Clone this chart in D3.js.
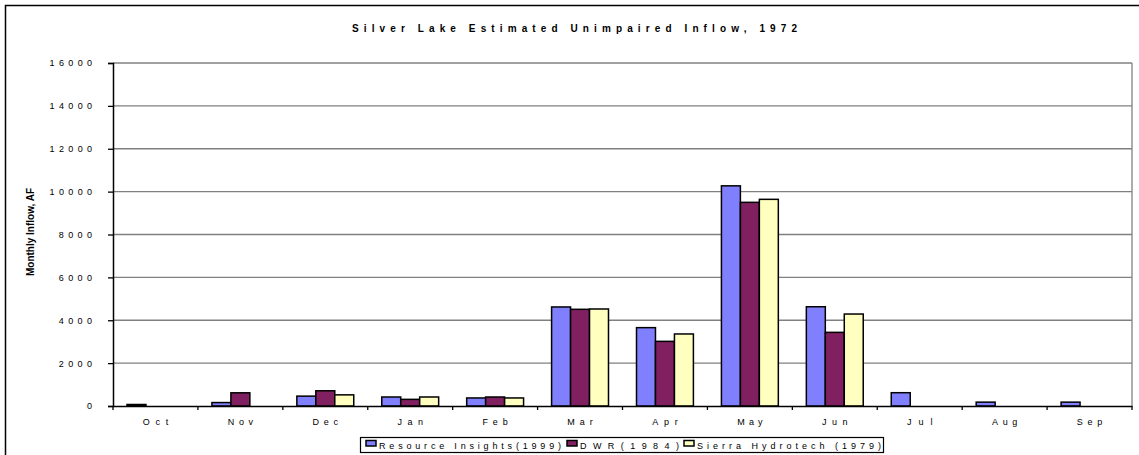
<!DOCTYPE html>
<html>
<head>
<meta charset="utf-8">
<script src="https://cdn.jsdelivr.net/npm/d3@7"></script>
<style>
  body { margin: 0; background: #fff; }
  svg { display: block; font-family: "Liberation Sans", Arial, sans-serif; }
</style>
</head>
<body>
<svg width="1139" height="455"></svg>
<script>
// chart data
const months = ["Oct", "Nov", "Dec", "Jan", "Feb", "Mar", "Apr", "May", "Jun", "Jul", "Aug", "Sep"];
const seriesNames = ["Resource Insights(1999)", "DWR(1984)", "Sierra Hydrotech (1979)"];
const resourceInsights = [70, 160, 460, 420, 375, 4620, 3655, 10270, 4630, 620, 180, 180];
const dwr = [0, 615, 710, 310, 420, 4510, 3015, 9500, 3435, 0, 0, 0];
const sierraHydrotech = [0, 0, 520, 420, 375, 4525, 3360, 9640, 4290, 0, 0, 0];
const yTicks = [0, 2000, 4000, 6000, 8000, 10000, 12000, 14000, 16000];
const colors = ["#8080ff", "#802060", "#ffffc0"];

const values = [resourceInsights, dwr, sierraHydrotech];
const rows = months.map((m, i) => ({month: m, vals: values.map(s => s[i])}));

const svg = d3.select("svg");
const plot = {left: 113, right: 1132, top: 63, bottom: 406};

// spread text like the wide-spaced labels of the original
const spread = (sel, perChar) => sel.each(function() {
  const n = this.textContent.length;
  if (n > 1) d3.select(this).attr("textLength", perChar * n - 4).attr("lengthAdjust", "spacing");
});

// outer chart border
svg.append("rect").attr("x", 5.5).attr("y", 5.5).attr("width", 1145).attr("height", 470)
  .attr("fill", "none").attr("stroke", "#000").attr("stroke-width", 1.5);

svg.append("text").attr("x", 352).attr("y", 32)
  .attr("textLength", 445).attr("lengthAdjust", "spacing")
  .style("font-size", "10px").style("font-weight", "bold")
  .text("Silver Lake Estimated Unimpaired Inflow, 1972");

const x0 = d3.scaleBand().domain(months).range([plot.left, plot.right]);
const bw = x0.bandwidth();
const x1 = d3.scaleBand().domain(seriesNames).range([bw * 0.165, bw * 0.835]);
const y = d3.scaleLinear().domain([0, 16000]).range([plot.bottom, plot.top]);

// gridlines
svg.append("g").selectAll("line").data(yTicks.slice(1)).join("line")
  .attr("x1", plot.left).attr("x2", plot.right)
  .attr("y1", d => y(d)).attr("y2", d => y(d))
  .attr("stroke", "#808080").attr("stroke-width", 1.3);
svg.append("line").attr("x1", plot.right).attr("x2", plot.right)
  .attr("y1", plot.top).attr("y2", plot.bottom)
  .attr("stroke", "#808080").attr("stroke-width", 1.3);

// bars
const groups = svg.append("g").selectAll("g").data(rows).join("g")
  .attr("transform", d => `translate(${x0(d.month)},0)`);
groups.selectAll("rect").data(d => d.vals.map((v, k) => ({v, k})).filter(e => e.v > 0)).join("rect")
  .attr("x", e => x1(seriesNames[e.k]))
  .attr("width", x1.bandwidth())
  .attr("y", e => y(e.v))
  .attr("height", e => y(0) - y(e.v))
  .attr("fill", e => colors[e.k])
  .attr("stroke", "#000").attr("stroke-width", 1.5);

// y axis
const yAxis = svg.append("g").attr("transform", `translate(${plot.left},0)`)
  .call(d3.axisLeft(y).tickValues(yTicks).tickSize(5).tickPadding(16).tickFormat(d3.format("d")));
yAxis.select(".domain").attr("stroke", "#000").attr("stroke-width", 1.5);
yAxis.selectAll(".tick line").attr("stroke", "#000").attr("stroke-width", 1.3);
yAxis.selectAll("text").attr("font-size", "9px").attr("fill", "#000").call(spread, 9.3);

svg.append("text").attr("transform", "translate(34,232) rotate(-90)")
  .attr("text-anchor", "middle").style("font-size", "10px").style("font-weight", "bold")
  .text("Monthly Inflow, AF");

// x axis
const xAxis = svg.append("g").attr("transform", `translate(0,${plot.bottom})`)
  .call(d3.axisBottom(x0).tickSize(0).tickPadding(13));
xAxis.select(".domain").attr("stroke", "#000").attr("stroke-width", 1.5);
xAxis.selectAll("text").attr("font-size", "9px").attr("fill", "#000").call(spread, 9.8);
svg.append("g").selectAll("line").data(months.concat(["end"])).join("line")
  .attr("x1", (d, i) => plot.left + i * bw).attr("x2", (d, i) => plot.left + i * bw)
  .attr("y1", plot.bottom).attr("y2", plot.bottom + 4)
  .attr("stroke", "#000").attr("stroke-width", 1.3);

// legend
const legend = svg.append("g");
legend.append("rect").attr("x", 360.5).attr("y", 437.5).attr("width", 523).attr("height", 15)
  .attr("fill", "#fff").attr("stroke", "#000").attr("stroke-width", 1.2);
const legX = [366, 567, 684];
const legW = [182, 99, 184];
seriesNames.forEach((name, k) => {
  legend.append("rect").attr("x", legX[k]).attr("y", 440.5).attr("width", 10).attr("height", 5.5)
    .attr("fill", colors[k]).attr("stroke", "#000").attr("stroke-width", 1.5);
  legend.append("text").attr("x", legX[k] + 13).attr("y", 449)
    .attr("textLength", legW[k]).attr("lengthAdjust", "spacing")
    .style("font-size", "9px").text(name);
});
</script>
</body>
</html>
